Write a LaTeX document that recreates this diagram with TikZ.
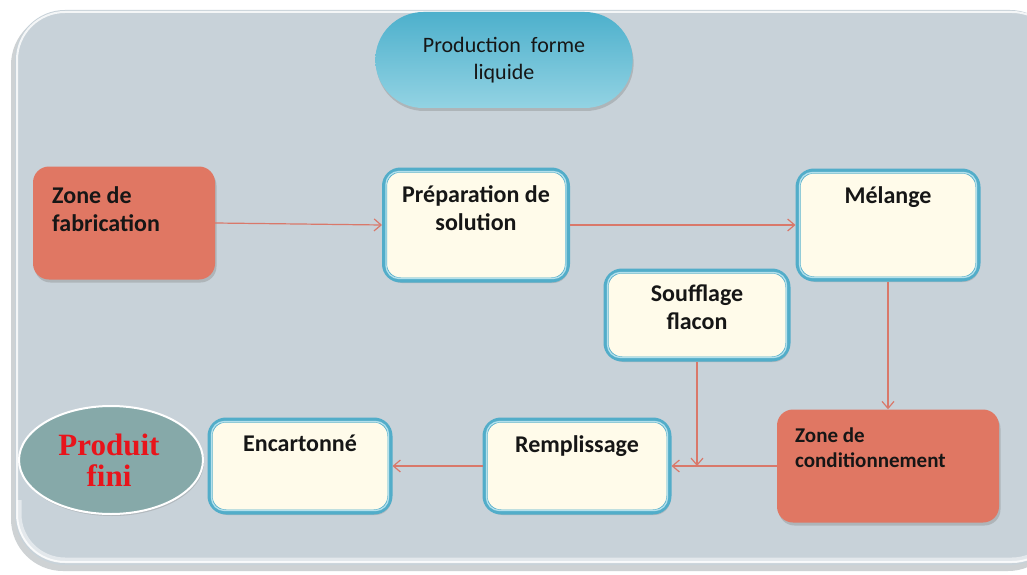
\documentclass[tikz,border=0pt]{standalone}
\usepackage{fontspec}
\setmainfont{Carlito}
\newfontfamily\serifbold{Liberation Serif}
\usetikzlibrary{arrows.meta,shadows,shapes.geometric,shapes.misc}

\definecolor{panelbg}{HTML}{C8D2D9}
\definecolor{panelshade}{HTML}{9EA6AB}
\definecolor{zonefill}{HTML}{E07763}
\definecolor{stepfill}{HTML}{FFFBEA}
\definecolor{stepline}{HTML}{52ADC9}
\definecolor{steplight}{HTML}{B4E0EC}
\definecolor{flowline}{HTML}{D9786A}
\definecolor{pilltop}{HTML}{4DB0CC}
\definecolor{pillbot}{HTML}{93D3E3}
\definecolor{endfill}{HTML}{86A9A9}
\definecolor{endtext}{HTML}{E8141B}
\definecolor{labeltext}{HTML}{161616}

\tikzset{
  zonebox/.style={draw=none, fill=zonefill, rounded corners=16pt,
    drop shadow={shadow xshift=1.5pt, shadow yshift=-3pt, opacity=0.35}},
  stepbox/.style={draw=stepline, line width=5pt, fill=stepfill, rounded corners=16pt,
    drop shadow={shadow xshift=1.5pt, shadow yshift=-3pt, opacity=0.3}},
  stepinner/.style={draw=steplight, line width=1.3pt, rounded corners=13pt},
  boxtext/.style={font=\bfseries\fontsize{24}{28}\selectfont, text=labeltext,
    align=center, inner sep=0pt, anchor=north},
  zonetext/.style={font=\bfseries\fontsize{24}{28}\selectfont, text=labeltext,
    align=left, inner sep=0pt, anchor=north west},
  flow/.style={draw=flowline, line width=1.2pt,
    -{Straight Barb[length=7pt,width=12pt,line width=1.2pt]}},
}

\begin{document}
\begin{tikzpicture}[x=1pt,y=-1pt]
  \useasboundingbox (0,0) rectangle (1027,575);
  \fill[white] (0,0) rectangle (1027,575);

  % background panel with soft shadow and light rim
  \fill[panelshade, opacity=0.5, rounded corners=52pt] (11,13) rectangle (1060,571);
  \fill[panelbg, rounded corners=50pt] (15,10) rectangle (1060,565);
  \draw[white, line width=2pt, opacity=0.8, rounded corners=48pt] (17,12) rectangle (1060,562);
  \begin{scope}
    \clip (0,500) rectangle (1027,575);
    \draw[white, line width=5pt, opacity=0.5, rounded corners=46pt] (19,14) rectangle (1058,560);
  \end{scope}

  % title pill
  \node[draw=none, rounded rectangle, minimum width=264pt, minimum height=96pt,
        top color=pilltop, bottom color=pillbot,
        drop shadow={shadow xshift=1pt, shadow yshift=-3pt, opacity=0.35},
        text=labeltext, font=\fontsize{22}{27}\selectfont, align=center]
        (title) at (504,60) {Production\ \ forme\\liquide};

  % process boxes
  \node[zonebox, minimum width=182pt, minimum height=113pt] (fab) at (124,223) {};
  \node[zonetext] (fabT) at (52,186) {Zone de\\fabrication};

  \node[stepbox, minimum width=183pt, minimum height=110pt] (prep) at (476,225) {};
  \draw[stepinner] ([shift={(4,4)}]prep.north west) rectangle ([shift={(-4,-4)}]prep.south east);
  \node[boxtext] (prepT) at (476,185) {Préparation de\\solution};

  \node[stepbox, minimum width=180pt, minimum height=108pt] (mel) at (888,225) {};
  \draw[stepinner] ([shift={(4,4)}]mel.north west) rectangle ([shift={(-4,-4)}]mel.south east);
  \node[boxtext] (melT) at (888,186) {Mélange};

  \node[stepbox, minimum width=182pt, minimum height=88pt] (souf) at (697,315) {};
  \draw[stepinner] ([shift={(4,4)}]souf.north west) rectangle ([shift={(-4,-4)}]souf.south east);
  \node[boxtext] (soufT) at (697,285) {Soufflage\\flacon};

  \node[zonebox, minimum width=222pt, minimum height=113pt] (cond) at (888,466) {};
  \node[zonetext, font=\bfseries\fontsize{21}{25}\selectfont] (condT) at (795,428)
        {Zone de\\conditionnement};

  \node[stepbox, minimum width=184pt, minimum height=92pt] (remp) at (577,466) {};
  \draw[stepinner] ([shift={(4,4)}]remp.north west) rectangle ([shift={(-4,-4)}]remp.south east);
  \node[boxtext] (rempT) at (577,435) {Remplissage};

  \node[stepbox, minimum width=180pt, minimum height=92pt] (enc) at (300,466) {};
  \draw[stepinner] ([shift={(4,4)}]enc.north west) rectangle ([shift={(-4,-4)}]enc.south east);
  \node[boxtext] (encT) at (300,435) {Encartonné};

  % final product
  \node[ellipse, draw=white, line width=2pt, fill=endfill,
        minimum width=184pt, minimum height=108pt,
        drop shadow={shadow xshift=1pt, shadow yshift=-2pt, opacity=0.3}] (fini) at (111,460) {};
  \node[font=\serifbold\bfseries\fontsize{31}{31}\selectfont, text=endtext, align=center,
        inner sep=0pt] (finiT) at (109,460) {Produit\\fini};

  % flow connectors
  \coordinate (join) at (souf.south |- cond.west);
  \draw[flow] (fab.east) -- (prep.west);
  \draw[flow] (prep.east) -- (mel.west);
  \draw[flow] (mel.south) -- (cond.north);
  \draw[flow] (cond.west) -- (remp.east);
  \draw[flow] (souf.south) -- (join);
  \draw[flow] (remp.west) -- (enc.east);
\end{tikzpicture}
\end{document}
